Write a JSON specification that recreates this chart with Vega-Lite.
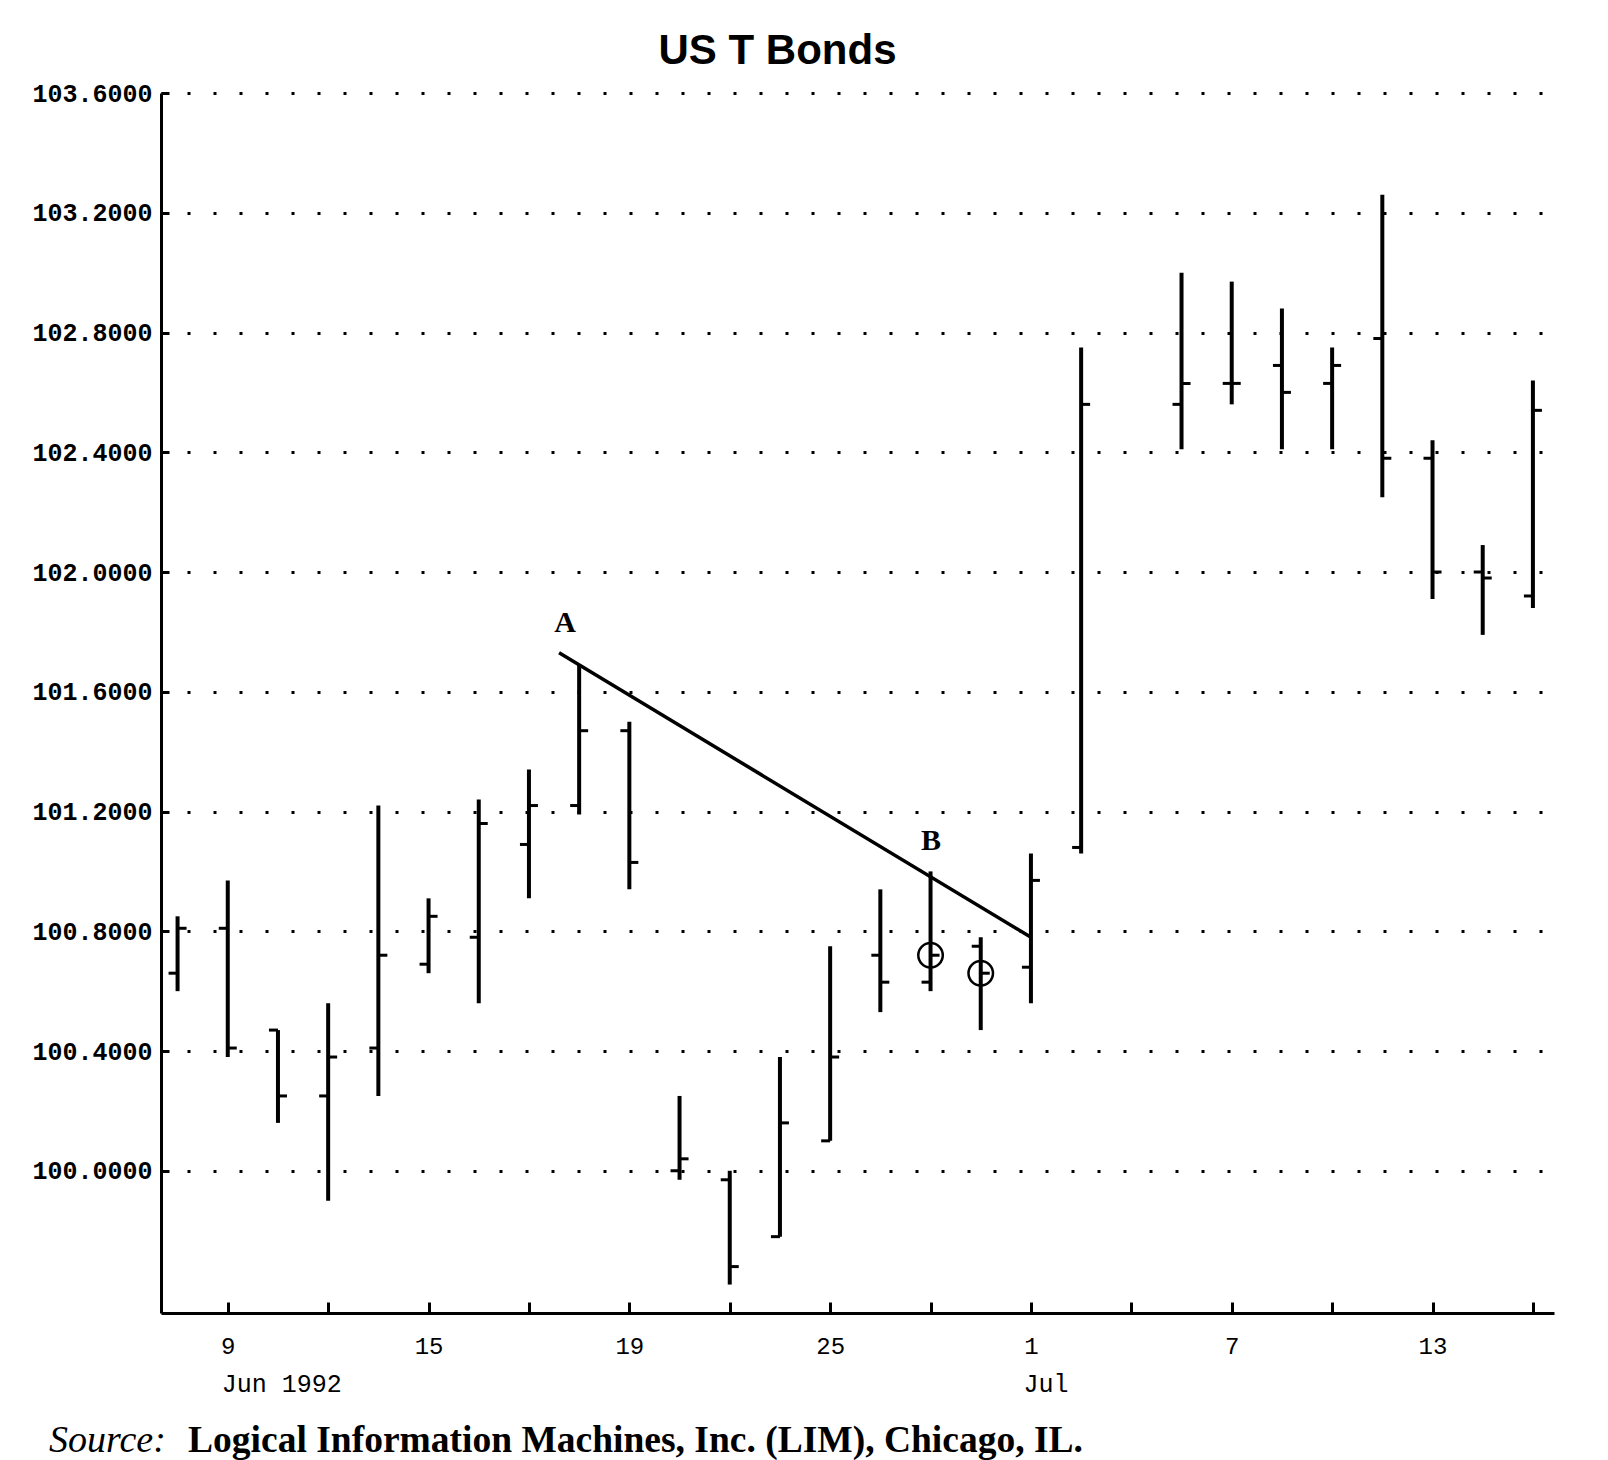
{
  "$schema": "https://vega.github.io/schema/vega-lite/v6.json",
  "autosize": "none",
  "width": 1393,
  "height": 1220,
  "padding": {"left": 161, "top": 93, "right": 54, "bottom": 147},
  "background": "white",
  "title": {
    "text": "US T Bonds",
    "font": "Liberation Sans",
    "fontSize": 42,
    "fontWeight": "bold",
    "color": "black",
    "anchor": "middle",
    "frame": "group",
    "dx": -80,
    "offset": 8
  },
  "config": {
    "view": {"stroke": null},
    "axis": {"domainColor": "black", "tickColor": "black", "labelColor": "black"}
  },
  "datasets": {
    "bars": [
      {"i": 0, "date": "1992-06-08", "open": 100.66, "high": 100.85, "low": 100.60, "close": 100.81},
      {"i": 1, "date": "1992-06-09", "open": 100.81, "high": 100.97, "low": 100.38, "close": 100.41},
      {"i": 2, "date": "1992-06-10", "open": 100.47, "high": 100.47, "low": 100.16, "close": 100.25},
      {"i": 3, "date": "1992-06-11", "open": 100.25, "high": 100.56, "low": 99.90, "close": 100.38},
      {"i": 4, "date": "1992-06-12", "open": 100.41, "high": 101.22, "low": 100.25, "close": 100.72},
      {"i": 5, "date": "1992-06-15", "open": 100.69, "high": 100.91, "low": 100.66, "close": 100.85},
      {"i": 6, "date": "1992-06-16", "open": 100.78, "high": 101.24, "low": 100.56, "close": 101.16},
      {"i": 7, "date": "1992-06-17", "open": 101.09, "high": 101.34, "low": 100.91, "close": 101.22},
      {"i": 8, "date": "1992-06-18", "open": 101.22, "high": 101.69, "low": 101.19, "close": 101.47},
      {"i": 9, "date": "1992-06-19", "open": 101.47, "high": 101.50, "low": 100.94, "close": 101.03},
      {"i": 10, "date": "1992-06-22", "open": 100.00, "high": 100.25, "low": 99.97, "close": 100.04},
      {"i": 11, "date": "1992-06-23", "open": 99.97, "high": 100.00, "low": 99.62, "close": 99.68},
      {"i": 12, "date": "1992-06-24", "open": 99.78, "high": 100.38, "low": 99.78, "close": 100.16},
      {"i": 13, "date": "1992-06-25", "open": 100.10, "high": 100.75, "low": 100.10, "close": 100.38},
      {"i": 14, "date": "1992-06-26", "open": 100.72, "high": 100.94, "low": 100.53, "close": 100.63},
      {"i": 15, "date": "1992-06-29", "open": 100.63, "high": 101.00, "low": 100.60, "close": 100.72},
      {"i": 16, "date": "1992-06-30", "open": 100.75, "high": 100.78, "low": 100.47, "close": 100.66},
      {"i": 17, "date": "1992-07-01", "open": 100.68, "high": 101.06, "low": 100.56, "close": 100.97},
      {"i": 18, "date": "1992-07-02", "open": 101.08, "high": 102.75, "low": 101.06, "close": 102.56},
      {"i": 20, "date": "1992-07-06", "open": 102.56, "high": 103.00, "low": 102.41, "close": 102.63},
      {"i": 21, "date": "1992-07-07", "open": 102.63, "high": 102.97, "low": 102.56, "close": 102.63},
      {"i": 22, "date": "1992-07-08", "open": 102.69, "high": 102.88, "low": 102.41, "close": 102.60},
      {"i": 23, "date": "1992-07-09", "open": 102.63, "high": 102.75, "low": 102.41, "close": 102.69},
      {"i": 24, "date": "1992-07-10", "open": 102.78, "high": 103.26, "low": 102.25, "close": 102.38},
      {"i": 25, "date": "1992-07-13", "open": 102.38, "high": 102.44, "low": 101.91, "close": 102.00},
      {"i": 26, "date": "1992-07-14", "open": 102.00, "high": 102.09, "low": 101.79, "close": 101.98},
      {"i": 27, "date": "1992-07-15", "open": 101.92, "high": 102.64, "low": 101.88, "close": 102.54}
    ],
    "trend": [
      {"i": 7.6, "v": 101.73},
      {"i": 17, "v": 100.78}
    ],
    "circles": [
      {"i": 15, "v": 100.72},
      {"i": 16, "v": 100.66}
    ],
    "letters": [
      {"i": 7.72, "v": 101.83, "t": "A"},
      {"i": 15.01, "v": 101.10, "t": "B"}
    ],
    "months": [
      {"i": 0.88, "v": 99.289, "t": "Jun 1992"},
      {"i": 16.85, "v": 99.289, "t": "Jul"}
    ],
    "source": [{"i": -2.56, "v": 99.062, "t": "Source:"}],
    "credit": [{"i": 0.21, "v": 99.062, "t": "Logical Information Machines, Inc. (LIM), Chicago, IL."}]
  },
  "layer": [
    {
      "data": {"name": "bars"},
      "mark": {"type": "rule", "strokeWidth": 4, "color": "black"},
      "encoding": {
        "x": {
          "field": "i", "type": "quantitative",
          "scale": {"domain": [-0.33, 27.42], "nice": false, "zero": false},
          "axis": {
            "title": null,
            "values": [1, 3, 5, 7, 9, 11, 13, 15, 17, 19, 21, 23, 25, 27],
            "labelExpr": "datum.value == 1 ? '9' : datum.value == 5 ? '15' : datum.value == 9 ? '19' : datum.value == 13 ? '25' : datum.value == 17 ? '1' : datum.value == 21 ? '7' : datum.value == 25 ? '13' : ''",
            "grid": false,
            "domainWidth": 3,
            "tickWidth": 3,
            "tickSize": -11,
            "labelPadding": 32,
            "labelFont": "Liberation Mono",
            "labelFontSize": 24,
            "labelBaseline": "top",
            "labelOverlap": false
          }
        },
        "y": {
          "field": "low", "type": "quantitative",
          "scale": {"domain": [99.525, 103.6], "nice": false, "zero": false},
          "axis": {
            "title": null,
            "values": [100.0, 100.4, 100.8, 101.2, 101.6, 102.0, 102.4, 102.8, 103.2, 103.6],
            "format": ".4f",
            "grid": true,
            "gridColor": "black",
            "gridWidth": 3,
            "gridDash": [3, 23],
            "gridOpacity": 1,
            "domainWidth": 3,
            "tickWidth": 3,
            "tickSize": -8,
            "labelPadding": 17,
            "labelFont": "Liberation Mono",
            "labelFontSize": 25,
            "labelFontWeight": "bold",
            "labelOverlap": false
          }
        },
        "y2": {"field": "high"}
      }
    },
    {
      "data": {"name": "bars"},
      "mark": {"type": "tick", "orient": "horizontal", "size": 9, "thickness": 3, "xOffset": -4.5, "color": "black", "opacity": 1},
      "encoding": {
        "x": {"field": "i", "type": "quantitative", "title": null},
        "y": {"field": "open", "type": "quantitative", "title": null}
      }
    },
    {
      "data": {"name": "bars"},
      "mark": {"type": "tick", "orient": "horizontal", "size": 9, "thickness": 3, "xOffset": 4.5, "color": "black", "opacity": 1},
      "encoding": {
        "x": {"field": "i", "type": "quantitative", "title": null},
        "y": {"field": "close", "type": "quantitative", "title": null}
      }
    },
    {
      "data": {"name": "trend"},
      "mark": {"type": "line", "strokeWidth": 3.5, "color": "black"},
      "encoding": {
        "x": {"field": "i", "type": "quantitative", "title": null},
        "y": {"field": "v", "type": "quantitative", "title": null}
      }
    },
    {
      "data": {"name": "circles"},
      "mark": {"type": "point", "shape": "circle", "filled": false, "size": 600, "strokeWidth": 2.5, "color": "black", "opacity": 1},
      "encoding": {
        "x": {"field": "i", "type": "quantitative", "title": null},
        "y": {"field": "v", "type": "quantitative", "title": null}
      }
    },
    {
      "data": {"name": "letters"},
      "mark": {"type": "text", "font": "Liberation Serif", "fontSize": 30, "fontWeight": "bold", "align": "center", "baseline": "middle", "color": "black"},
      "encoding": {
        "x": {"field": "i", "type": "quantitative", "title": null},
        "y": {"field": "v", "type": "quantitative", "title": null},
        "text": {"field": "t"}
      }
    },
    {
      "data": {"name": "months"},
      "mark": {"type": "text", "font": "Liberation Mono", "fontSize": 25, "align": "left", "baseline": "middle", "color": "black"},
      "encoding": {
        "x": {"field": "i", "type": "quantitative", "title": null},
        "y": {"field": "v", "type": "quantitative", "title": null},
        "text": {"field": "t"}
      }
    },
    {
      "data": {"name": "source"},
      "mark": {"type": "text", "font": "Liberation Serif", "fontSize": 38, "fontStyle": "italic", "align": "left", "baseline": "alphabetic", "color": "black"},
      "encoding": {
        "x": {"field": "i", "type": "quantitative", "title": null},
        "y": {"field": "v", "type": "quantitative", "title": null},
        "text": {"field": "t"}
      }
    },
    {
      "data": {"name": "credit"},
      "mark": {"type": "text", "font": "Liberation Serif", "fontSize": 37.5, "fontWeight": "bold", "align": "left", "baseline": "alphabetic", "color": "black"},
      "encoding": {
        "x": {"field": "i", "type": "quantitative", "title": null},
        "y": {"field": "v", "type": "quantitative", "title": null},
        "text": {"field": "t"}
      }
    }
  ]
}
